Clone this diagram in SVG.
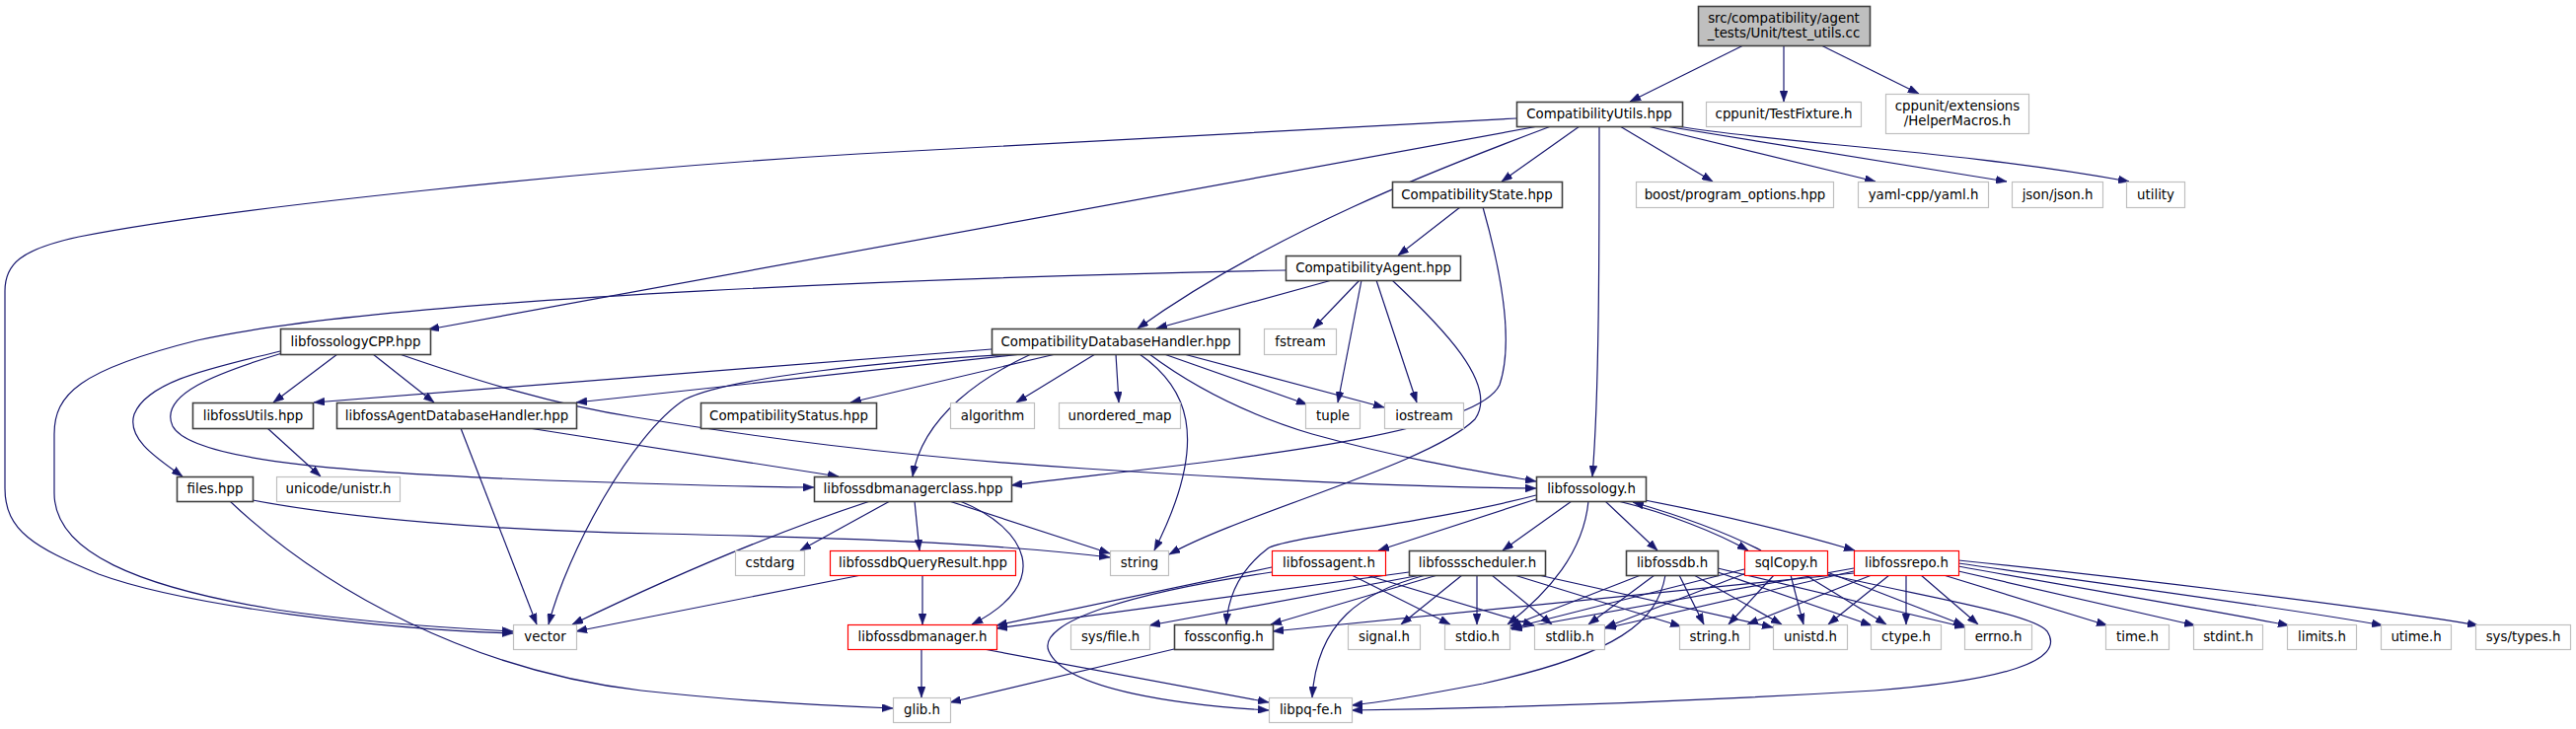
<svg xmlns="http://www.w3.org/2000/svg" width="2611" height="739" viewBox="0 0 2611 739">
<style>
rect{fill:#fff;stroke-width:1.2}
.b rect{stroke:#404040;stroke-width:1.6}
.g rect{stroke:#bfbfbf}
.r rect{stroke:#ff0000}
.root rect{fill:#bfbfbf;stroke:#404040;stroke-width:1.6}
text{font-family:"DejaVu Sans","Liberation Sans",sans-serif;font-size:13.33px;text-anchor:middle;fill:#000}
.e path{fill:none;stroke:#191970;stroke-width:1.2;marker-end:url(#a)}
</style>
<defs>
<marker id="a" markerUnits="userSpaceOnUse" markerWidth="11" markerHeight="8" refX="11" refY="4" orient="auto" viewBox="0 0 11 8"><path d="M0,0 L11,4 L0,8 Z" fill="#191970" stroke="#191970" stroke-width="0.5"/></marker>
</defs>
<rect x="0" y="0" width="2611" height="739" style="fill:#fff;stroke:none"/>
<g id="connectors" class="e">
<path d="M1767,46 L1652,103"/>
<path d="M1808,46 L1808,103"/>
<path d="M1846,46 L1945,95"/>
<path d="M1537,120 L870,156 C600,172 220,212 80,240 C20,253 5,268 5,295 L5,495 C5,538 35,555 100,582 C190,615 390,638 520,642"/>
<path d="M1559,128 L434,334"/>
<path d="M1572,128 C1460,170 1290,235 1153,333"/>
<path d="M1601,128 L1522,184"/>
<path d="M1621,128 C1621,250 1621,400 1614,483"/>
<path d="M1642,128 L1736,184"/>
<path d="M1670,128 L1901,184"/>
<path d="M1688,128 L2034,184"/>
<path d="M1700,128 C1800,145 1990,153 2158,184"/>
<path d="M1480,210 L1417,259"/>
<path d="M1503,210 C1520,270 1535,345 1520,390 C1495,445 1200,470 1025,492"/>
<path d="M1350,284 L1172,333"/>
<path d="M1378,284 L1331,333"/>
<path d="M1303,274 C1000,280 400,300 200,345 C80,375 55,400 55,440 L55,500 C55,560 140,595 280,618 C380,633 480,638 520,640"/>
<path d="M1380,284 L1356,408"/>
<path d="M1395,284 L1436,408"/>
<path d="M1411,284 C1460,330 1520,390 1495,425 C1450,470 1260,520 1185,562"/>
<path d="M1005,354 L318,408"/>
<path d="M1036,359 L584,408"/>
<path d="M1070,359 L862,408"/>
<path d="M1030,359 C900,366 740,382 694,405 C640,440 575,560 556,633"/>
<path d="M1045,359 C1000,380 935,420 925,483"/>
<path d="M1110,359 L1030,408"/>
<path d="M1131,359 L1134,408"/>
<path d="M1155,359 C1200,390 1230,440 1170,558"/>
<path d="M1180,359 L1325,410"/>
<path d="M1200,359 L1403,413"/>
<path d="M1165,359 C1220,400 1280,425 1330,440 C1420,465 1500,478 1557,488"/>
<path d="M342,359 L277,408"/>
<path d="M378,359 L440,408"/>
<path d="M405,359 C480,385 560,410 644,423 C760,442 900,462 1100,475 C1300,488 1450,494 1557,495"/>
<path d="M284,356 C220,372 150,385 136,420 C128,445 160,465 185,483"/>
<path d="M286,358 C220,378 160,400 175,432 C195,470 380,480 555,487 C700,492 780,494 825,494"/>
<path d="M271,434 L325,483"/>
<path d="M467,434 L544,633"/>
<path d="M536,434 L850,483"/>
<path d="M256,507 C350,525 500,538 667,541 C850,545 1000,550 1125,565"/>
<path d="M233,508 C330,600 480,680 650,700 C760,712 850,716 905,718"/>
<path d="M882,508 C800,535 700,575 580,633"/>
<path d="M902,508 L811,558"/>
<path d="M927,508 L932,558"/>
<path d="M962,508 L1125,561"/>
<path d="M973,508 C1040,535 1070,590 985,633"/>
<path d="M873,583 L584,640"/>
<path d="M935,583 L935,633"/>
<path d="M934,658 L934,707"/>
<path d="M997,658 L1286,712"/>
<path d="M1190,658 L963,712"/>
<path d="M1557,506 L1397,558"/>
<path d="M1557,502 C1450,530 1300,545 1285,556 C1260,575 1245,600 1243,633"/>
<path d="M1593,508 L1523,558"/>
<path d="M1610,508 C1605,560 1570,600 1528,633"/>
<path d="M1627,508 L1680,558"/>
<path d="M1640,508 C1690,520 1740,540 1772,558"/>
<path d="M1662,506 C1760,525 1830,543 1880,558"/>
<path d="M1785,558 C1750,540 1700,522 1655,509"/>
<path d="M1289,575 L1010,634"/>
<path d="M1289,580 C1150,600 1050,630 1063,660 C1080,700 1200,715 1286,720"/>
<path d="M1370,583 L1470,633"/>
<path d="M1385,583 L1555,634"/>
<path d="M1428,580 L1010,637"/>
<path d="M1440,583 L1165,634"/>
<path d="M1457,583 L1288,633"/>
<path d="M1445,583 C1380,600 1335,630 1330,707"/>
<path d="M1482,583 L1420,633"/>
<path d="M1497,583 L1497,633"/>
<path d="M1512,583 L1573,633"/>
<path d="M1535,583 L1704,635"/>
<path d="M1555,582 L1797,636"/>
<path d="M1663,583 L1530,635"/>
<path d="M1677,583 L1610,633"/>
<path d="M1688,583 C1680,630 1640,663 1503,693 C1440,705 1400,712 1370,715"/>
<path d="M1702,583 L1727,633"/>
<path d="M1717,583 L1806,633"/>
<path d="M1741,580 L1897,634"/>
<path d="M1741,576 L1992,636"/>
<path d="M1768,577 L1531,637"/>
<path d="M1770,581 L1627,636"/>
<path d="M1798,583 L1752,633"/>
<path d="M1815,583 L1828,633"/>
<path d="M1830,583 L1912,633"/>
<path d="M1852,580 L1991,634"/>
<path d="M1852,582 C1950,605 2060,622 2075,640 C2095,670 2030,690 1900,700 C1700,712 1500,718 1370,720"/>
<path d="M1879,576 L1532,638"/>
<path d="M1879,579 L1627,637"/>
<path d="M1879,581 L1290,640"/>
<path d="M1897,583 L1771,633"/>
<path d="M1915,583 L1853,633"/>
<path d="M1932,583 L1932,633"/>
<path d="M1947,583 L2005,633"/>
<path d="M1970,583 L2136,634"/>
<path d="M1985,579 L2225,634"/>
<path d="M1985,574 C2100,595 2250,620 2320,634"/>
<path d="M1985,571 C2120,590 2330,618 2415,634"/>
<path d="M1985,568 C2150,585 2400,615 2512,634"/>
</g>
<g id="n_root" class="root"><rect x="1721.5" y="6.5" width="174" height="40"/><text x="1808" y="22.5">src/compatibility/agent</text><text x="1808" y="37.5">_tests/Unit/test_utils.cc</text></g>
<g id="n_CompatibilityUtils" class="b"><rect x="1537.5" y="103.5" width="168" height="25"/><text x="1621" y="120">CompatibilityUtils.hpp</text></g>
<g id="n_TestFixture" class="g"><rect x="1729.5" y="103.5" width="157" height="25"/><text x="1808" y="120">cppunit/TestFixture.h</text></g>
<g id="n_HelperMacros" class="g"><rect x="1911.5" y="95.5" width="145" height="40"/><text x="1984" y="111.5">cppunit/extensions</text><text x="1984" y="126.5">/HelperMacros.h</text></g>
<g id="n_CompatibilityState" class="b"><rect x="1411.5" y="184.5" width="172" height="26"/><text x="1497" y="201.5">CompatibilityState.hpp</text></g>
<g id="n_boost" class="g"><rect x="1658.5" y="184.5" width="200" height="26"/><text x="1758.5" y="201.5">boost/program_options.hpp</text></g>
<g id="n_yaml" class="g"><rect x="1883.5" y="184.5" width="132" height="26"/><text x="1949.5" y="201.5">yaml-cpp/yaml.h</text></g>
<g id="n_json" class="g"><rect x="2039.5" y="184.5" width="92" height="26"/><text x="2085.5" y="201.5">json/json.h</text></g>
<g id="n_utility" class="g"><rect x="2155.5" y="184.5" width="59" height="26"/><text x="2185" y="201.5">utility</text></g>
<g id="n_CompatibilityAgent" class="b"><rect x="1303.5" y="259.5" width="177" height="25"/><text x="1392" y="276">CompatibilityAgent.hpp</text></g>
<g id="n_libfossologyCPP" class="b"><rect x="284.5" y="333.5" width="152" height="26"/><text x="360.5" y="350.5">libfossologyCPP.hpp</text></g>
<g id="n_CompatibilityDatabaseHandler" class="b"><rect x="1005.5" y="333.5" width="251" height="26"/><text x="1131" y="350.5">CompatibilityDatabaseHandler.hpp</text></g>
<g id="n_fstream" class="g"><rect x="1281.5" y="333.5" width="73" height="26"/><text x="1318" y="350.5">fstream</text></g>
<g id="n_libfossUtils" class="b"><rect x="195.5" y="408.5" width="122" height="26"/><text x="256.5" y="425.5">libfossUtils.hpp</text></g>
<g id="n_libfossAgentDatabaseHandler" class="b"><rect x="341.5" y="408.5" width="243" height="26"/><text x="463" y="425.5">libfossAgentDatabaseHandler.hpp</text></g>
<g id="n_CompatibilityStatus" class="b"><rect x="710.5" y="408.5" width="178" height="26"/><text x="799.5" y="425.5">CompatibilityStatus.hpp</text></g>
<g id="n_algorithm" class="g"><rect x="963.5" y="408.5" width="85" height="26"/><text x="1006" y="425.5">algorithm</text></g>
<g id="n_unordered_map" class="g"><rect x="1073.5" y="408.5" width="123" height="26"/><text x="1135" y="425.5">unordered_map</text></g>
<g id="n_tuple" class="g"><rect x="1323.5" y="408.5" width="55" height="26"/><text x="1351" y="425.5">tuple</text></g>
<g id="n_iostream" class="g"><rect x="1403.5" y="408.5" width="80" height="26"/><text x="1443.5" y="425.5">iostream</text></g>
<g id="n_files" class="b"><rect x="179.5" y="483.5" width="77" height="25"/><text x="218" y="500">files.hpp</text></g>
<g id="n_unistr" class="g"><rect x="280.5" y="483.5" width="125" height="25"/><text x="343" y="500">unicode/unistr.h</text></g>
<g id="n_libfossdbmanagerclass" class="b"><rect x="825.5" y="483.5" width="200" height="25"/><text x="925.5" y="500">libfossdbmanagerclass.hpp</text></g>
<g id="n_libfossology" class="b"><rect x="1557.5" y="483.5" width="111" height="25"/><text x="1613" y="500">libfossology.h</text></g>
<g id="n_cstdarg" class="g"><rect x="745.5" y="558.5" width="70" height="25"/><text x="780.5" y="575">cstdarg</text></g>
<g id="n_libfossdbQueryResult" class="r"><rect x="841.5" y="558.5" width="188" height="25"/><text x="935.5" y="575">libfossdbQueryResult.hpp</text></g>
<g id="n_string" class="g"><rect x="1125.5" y="558.5" width="59" height="25"/><text x="1155" y="575">string</text></g>
<g id="n_libfossagent" class="r"><rect x="1289.5" y="558.5" width="115" height="25"/><text x="1347" y="575">libfossagent.h</text></g>
<g id="n_libfossscheduler" class="b"><rect x="1428.5" y="558.5" width="138" height="25"/><text x="1497.5" y="575">libfossscheduler.h</text></g>
<g id="n_libfossdb" class="b"><rect x="1648.5" y="558.5" width="93" height="25"/><text x="1695" y="575">libfossdb.h</text></g>
<g id="n_sqlCopy" class="r"><rect x="1768.5" y="558.5" width="84" height="25"/><text x="1810.5" y="575">sqlCopy.h</text></g>
<g id="n_libfossrepo" class="r"><rect x="1879.5" y="558.5" width="106" height="25"/><text x="1932.5" y="575">libfossrepo.h</text></g>
<g id="n_vector" class="g"><rect x="520.5" y="633.5" width="64" height="25"/><text x="552.5" y="650">vector</text></g>
<g id="n_libfossdbmanager" class="r"><rect x="859.5" y="633.5" width="151" height="25"/><text x="935" y="650">libfossdbmanager.h</text></g>
<g id="n_sysfile" class="g"><rect x="1085.5" y="633.5" width="80" height="25"/><text x="1125.5" y="650">sys/file.h</text></g>
<g id="n_fossconfig" class="b"><rect x="1190.5" y="633.5" width="100" height="25"/><text x="1240.5" y="650">fossconfig.h</text></g>
<g id="n_signal" class="g"><rect x="1366.5" y="633.5" width="73" height="25"/><text x="1403" y="650">signal.h</text></g>
<g id="n_stdio" class="g"><rect x="1464.5" y="633.5" width="66" height="25"/><text x="1497.5" y="650">stdio.h</text></g>
<g id="n_stdlib" class="g"><rect x="1555.5" y="633.5" width="71" height="25"/><text x="1591" y="650">stdlib.h</text></g>
<g id="n_stringh" class="g"><rect x="1702.5" y="633.5" width="71" height="25"/><text x="1738" y="650">string.h</text></g>
<g id="n_unistd" class="g"><rect x="1797.5" y="633.5" width="75" height="25"/><text x="1835" y="650">unistd.h</text></g>
<g id="n_ctype" class="g"><rect x="1896.5" y="633.5" width="71" height="25"/><text x="1932" y="650">ctype.h</text></g>
<g id="n_errno" class="g"><rect x="1991.5" y="633.5" width="68" height="25"/><text x="2025.5" y="650">errno.h</text></g>
<g id="n_time" class="g"><rect x="2134.5" y="633.5" width="64" height="25"/><text x="2166.5" y="650">time.h</text></g>
<g id="n_stdint" class="g"><rect x="2223.5" y="633.5" width="70" height="25"/><text x="2258.5" y="650">stdint.h</text></g>
<g id="n_limits" class="g"><rect x="2318.5" y="633.5" width="70" height="25"/><text x="2353.5" y="650">limits.h</text></g>
<g id="n_utime" class="g"><rect x="2413.5" y="633.5" width="71" height="25"/><text x="2449" y="650">utime.h</text></g>
<g id="n_systypes" class="g"><rect x="2509.5" y="633.5" width="96" height="25"/><text x="2557.5" y="650">sys/types.h</text></g>
<g id="n_glib" class="g"><rect x="905.5" y="707.5" width="58" height="25"/><text x="934.5" y="724">glib.h</text></g>
<g id="n_libpqfe" class="g"><rect x="1286.5" y="707.5" width="84" height="25"/><text x="1328.5" y="724">libpq-fe.h</text></g>
</svg>
